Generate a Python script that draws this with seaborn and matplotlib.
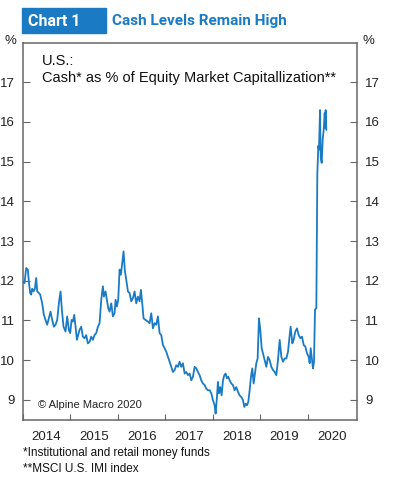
import matplotlib
matplotlib.use("Agg")
import matplotlib.pyplot as plt
import matplotlib.patches as mpatches
import numpy as np
import pandas as pd
import seaborn as sns

# decimal years since 2014
t_offset = [
    0.000, 0.035, 0.070, 0.105, 0.126, 0.154, 0.175, 0.196, 0.225, 0.253,
    0.281, 0.302, 0.337, 0.365, 0.407, 0.442, 0.477, 0.512, 0.547, 0.582,
    0.618, 0.653, 0.688, 0.723, 0.758, 0.793, 0.821, 0.856, 0.898, 0.933,
    0.968, 0.996, 1.025, 1.053, 1.081, 1.109, 1.137, 1.165, 1.193, 1.228,
    1.263, 1.298, 1.333, 1.368, 1.404, 1.439, 1.474, 1.509, 1.544, 1.579,
    1.614, 1.649, 1.684, 1.705, 1.740, 1.768, 1.796, 1.825, 1.860, 1.895,
    1.930, 1.951, 1.979, 2.007, 2.035, 2.063, 2.091, 2.119, 2.147, 2.175,
    2.211, 2.246, 2.281, 2.316, 2.351, 2.386, 2.421, 2.456, 2.484, 2.512,
    2.540, 2.582, 2.632, 2.667, 2.702, 2.737, 2.772, 2.807, 2.842, 2.877,
    2.912, 2.947, 2.982, 3.018, 3.053, 3.088, 3.123, 3.158, 3.193, 3.228,
    3.263, 3.298, 3.333, 3.368, 3.404, 3.439, 3.474, 3.509, 3.544, 3.579,
    3.614, 3.649, 3.684, 3.719, 3.754, 3.789, 3.825, 3.860, 3.895, 3.930,
    3.965, 4.000, 4.035, 4.056, 4.084, 4.105, 4.126, 4.154, 4.182, 4.211,
    4.239, 4.267, 4.295, 4.323, 4.351, 4.386, 4.421, 4.456, 4.491, 4.526,
    4.561, 4.596, 4.632, 4.660, 4.688, 4.716, 4.744, 4.772, 4.800, 4.828,
    4.856, 4.884, 4.912, 4.940, 4.968, 4.996, 5.025, 5.053, 5.088, 5.123,
    5.158, 5.193, 5.228, 5.263, 5.298, 5.333, 5.368, 5.404, 5.439, 5.474,
    5.509, 5.544, 5.579, 5.614, 5.635, 5.670, 5.698, 5.733, 5.768, 5.804,
    5.839, 5.874, 5.909, 5.944, 5.979, 6.014, 6.035, 6.056, 6.084, 6.105,
    6.126, 6.147, 6.175, 6.196, 6.217, 6.231, 6.253, 6.267, 6.288, 6.309,
    6.330, 6.351, 6.365, 6.372, 6.386,
]
cash_pct = [
    11.98, 11.94, 12.32, 12.28, 11.98, 11.69, 11.65, 11.80, 11.73, 11.80,
    12.07, 11.73, 11.69, 11.65, 11.43, 11.14, 11.01, 10.89, 11.05, 11.22,
    11.01, 10.84, 10.89, 11.01, 11.43, 11.73, 11.27, 10.84, 10.72, 11.10,
    10.76, 10.68, 11.01, 10.97, 11.14, 10.84, 10.51, 10.63, 10.76, 10.84,
    10.59, 10.55, 10.63, 10.42, 10.46, 10.59, 10.51, 10.63, 10.68, 10.84,
    10.93, 11.52, 11.86, 11.60, 11.73, 11.52, 11.31, 11.22, 11.43, 11.10,
    11.18, 11.52, 11.35, 11.52, 12.28, 12.15, 12.45, 12.74, 12.24, 12.03,
    11.73, 11.69, 11.48, 11.56, 11.73, 11.43, 11.60, 11.48, 11.77, 11.43,
    11.05, 11.01, 10.97, 10.93, 11.18, 10.80, 10.93, 10.89, 11.10, 10.68,
    10.63, 10.38, 10.30, 10.21, 10.08, 9.96, 9.83, 9.70, 9.75, 9.87,
    9.83, 9.96, 9.83, 9.92, 9.66, 9.70, 9.62, 9.66, 9.49, 9.58,
    9.83, 9.79, 9.70, 9.62, 9.49, 9.41, 9.37, 9.28, 9.24, 9.24,
    9.16, 8.99, 8.86, 8.65, 9.07, 9.45, 9.16, 9.32, 9.11, 9.49,
    9.62, 9.66, 9.54, 9.58, 9.49, 9.41, 9.37, 9.24, 9.32, 9.20,
    9.11, 9.07, 8.99, 8.82, 8.90, 8.86, 8.95, 9.24, 9.58, 9.79,
    9.41, 9.66, 9.92, 10.04, 11.05, 10.76, 10.30, 10.17, 10.00, 9.83,
    10.08, 10.00, 9.83, 9.75, 9.70, 9.62, 10.00, 10.51, 10.08, 9.96,
    10.04, 10.04, 10.21, 10.63, 10.84, 10.42, 10.51, 10.72, 10.80, 10.63,
    10.55, 10.59, 10.38, 10.34, 10.17, 10.08, 9.92, 10.30, 10.00, 9.79,
    9.96, 11.27, 11.31, 14.70, 15.40, 15.30, 16.30, 15.10, 14.97, 15.56,
    15.80, 16.23, 15.85, 16.30, 15.80,
]
base_year = 2014
year_labels = ["2014", "2015", "2016", "2017", "2018", "2019", "2020"]
y_ticks = [9, 10, 11, 12, 13, 14, 15, 16, 17]

BLUE = "#1a7bc4"
GREY = "#666666"

sns.set_theme(style="white")
plt.rcParams["font.family"] = ["Liberation Sans", "DejaVu Sans"]

df = pd.DataFrame({"year": np.array(t_offset) + base_year, "cash": cash_pct})

fig = plt.figure(figsize=(3.94, 4.79), dpi=100)
ax = fig.add_axes([0.058, 0.124, 0.848, 0.787])
sns.lineplot(data=df, x="year", y="cash", ax=ax, color=BLUE, linewidth=1.3)

ax.set_xlim(2014, 2021.03)
ax.set_ylim(8.5, 18.0)
ax.set_xlabel("")
ax.set_ylabel("")

ax.set_yticks(y_ticks)
ax.set_yticklabels([str(v) for v in y_ticks])
ax.tick_params(axis="y", which="major", direction="in", length=5, width=0.8,
               color=GREY, labelsize=9.5, labelcolor="#222222", pad=6,
               left=True, right=True, labelleft=True, labelright=True)

years = [base_year + i for i in range(len(year_labels))]
ax.set_xticks(years)
ax.set_xticklabels([])
ax.set_xticks([y + 0.5 for y in years], minor=True)
ax.set_xticklabels(year_labels, minor=True)
ax.tick_params(axis="x", which="major", direction="in", length=4.5, width=0.8,
               color=GREY, bottom=True)
ax.tick_params(axis="x", which="minor", length=0, labelsize=9.5,
               labelcolor="#222222", pad=8)

for s in ax.spines.values():
    s.set_color(GREY)
    s.set_linewidth(1.1)

# header
fig.patches.append(mpatches.Rectangle((22 / 394, 1 - 33 / 479), 84 / 394, 25 / 479,
                                      transform=fig.transFigure, color=BLUE, zorder=0))
fig.text(28 / 394, 1 - 21.5 / 479, "Chart 1", color="white", fontsize=11.5,
         fontweight="bold", va="center", ha="left", family=["Roboto", "DejaVu Sans"])
fig.text(112 / 394, 1 - 21.5 / 479, "Cash Levels Remain High", color=BLUE,
         fontsize=11, fontweight="bold", va="center", ha="left",
         family=["Roboto", "DejaVu Sans"])

fig.text(10 / 394, 1 - 41 / 479, "%", fontsize=9.5, color="#222222", ha="center", va="center")
fig.text(368 / 394, 1 - 41 / 479, "%", fontsize=9.5, color="#222222", ha="center", va="center")

fig.text(42 / 394, 1 - 61 / 479, "U.S.:", fontsize=10.5, color="#111111", va="center")
fig.text(42 / 394, 1 - 78 / 479, "Cash* as % of Equity Market Capitallization**",
         fontsize=10.5, color="#111111", va="center")

fig.text(38 / 394, 1 - 405 / 479, "\u00a9 Alpine Macro 2020", fontsize=8,
         color="#222222", va="center")

fig.text(23 / 394, 1 - 453 / 479, "*Institutional and retail money funds",
         fontsize=8.5, color="#111111", va="center")
fig.text(23 / 394, 1 - 469 / 479, "**MSCI U.S. IMI index",
         fontsize=8.5, color="#111111", va="center")

fig.savefig("out.png", dpi=100)
